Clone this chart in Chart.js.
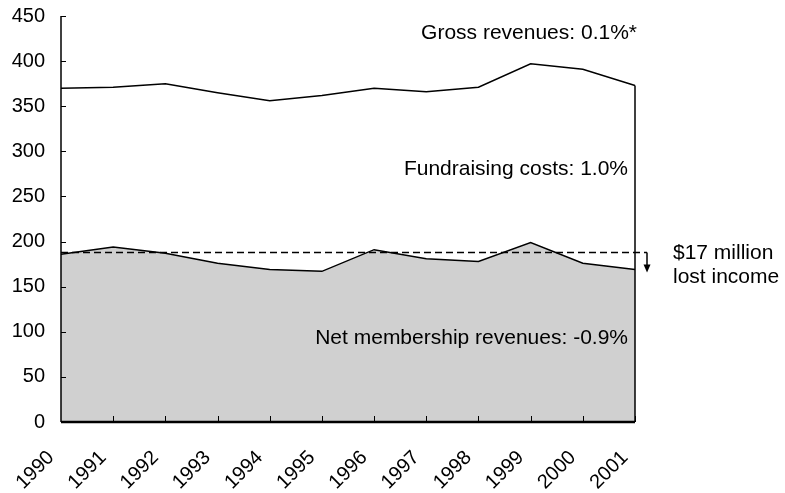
<!DOCTYPE html>
<html>
<head>
<meta charset="utf-8">
<title>Membership revenues 1990-2001</title>
<script src="https://cdn.jsdelivr.net/npm/chart.js@4.4.0/dist/chart.umd.min.js"></script>
<style>
body { margin: 0; background: #fff; }
</style>
</head>
<body>
<canvas id="chart" width="785" height="493"></canvas>
<script>
var years = ['1990', '1991', '1992', '1993', '1994', '1995', '1996', '1997', '1998', '1999', '2000', '2001'];
var grossRevenues = [370, 371, 375, 365, 356, 362, 370, 366, 371, 397, 391, 373];
var netMembership = [186, 194, 187, 176, 169, 167, 191, 181, 178, 199, 176, 169];
var lostIncomeLevel = 188;
var yTicks = [0, 50, 100, 150, 200, 250, 300, 350, 400, 450];

var FONT = '21px "Liberation Sans", Arial, sans-serif';

// axes, inside ticks, the dashed 1990 level and the text notes go on top of the fills
var overlay = {
  id: 'overlay',
  afterDatasetsDraw: function (chart) {
    var ctx = chart.ctx, x = chart.scales.x, y = chart.scales.y, a = chart.chartArea;
    var last = years.length - 1;
    var i;
    ctx.save();
    ctx.strokeStyle = '#000';
    ctx.fillStyle = '#000';

    // right edge of the gross revenue area
    ctx.lineWidth = 1.5;
    var ex = x.getPixelForValue(last);
    ctx.beginPath();
    ctx.moveTo(ex, y.getPixelForValue(grossRevenues[last]));
    ctx.lineTo(ex, y.getPixelForValue(0));
    ctx.stroke();

    // dashed level line and arrow
    var ly = y.getPixelForValue(lostIncomeLevel);
    ctx.setLineDash([7, 4]);
    ctx.beginPath();
    ctx.moveTo(a.left, ly);
    ctx.lineTo(a.right + 12, ly);
    ctx.stroke();
    ctx.setLineDash([]);
    var ax = a.right + 12;
    ctx.beginPath();
    ctx.moveTo(ax, ly);
    ctx.lineTo(ax, ly + 14);
    ctx.stroke();
    ctx.beginPath();
    ctx.moveTo(ax - 3.5, ly + 12);
    ctx.lineTo(ax + 3.5, ly + 12);
    ctx.lineTo(ax, ly + 20);
    ctx.closePath();
    ctx.fill();

    // axis lines
    ctx.lineWidth = 1.5;
    ctx.beginPath();
    ctx.moveTo(a.left, a.top);
    ctx.lineTo(a.left, a.bottom);
    ctx.stroke();
    ctx.lineWidth = 2.5;
    ctx.beginPath();
    ctx.moveTo(a.left, a.bottom);
    ctx.lineTo(a.right, a.bottom);
    ctx.stroke();

    // tick marks pointing inside
    ctx.lineWidth = 1;
    for (i = 0; i < yTicks.length; i++) {
      var ty = Math.round(y.getPixelForValue(yTicks[i])) + 0.5;
      ctx.beginPath();
      ctx.moveTo(a.left, ty);
      ctx.lineTo(a.left + 5, ty);
      ctx.stroke();
    }
    for (i = 1; i < years.length; i++) {
      var tx = Math.round(x.getPixelForValue(i)) + 0.5;
      ctx.beginPath();
      ctx.moveTo(tx, a.bottom);
      ctx.lineTo(tx, a.bottom - 6);
      ctx.stroke();
    }

    // notes
    ctx.font = FONT;
    ctx.textBaseline = 'alphabetic';
    ctx.textAlign = 'right';
    ctx.fillText('Gross revenues: 0.1%*', a.right + 2, y.getPixelForValue(424));
    ctx.fillText('Fundraising costs: 1.0%', a.right - 7, y.getPixelForValue(274));
    ctx.fillText('Net membership revenues: -0.9%', a.right - 7, y.getPixelForValue(86));
    ctx.textAlign = 'left';
    ctx.fillText('$17 million', a.right + 38, y.getPixelForValue(181));
    ctx.fillText('lost income', a.right + 38, y.getPixelForValue(154));
    ctx.restore();
  }
};

new Chart(document.getElementById('chart'), {
  type: 'line',
  data: {
    labels: years,
    datasets: [
      {
        label: 'Net membership revenues',
        data: netMembership,
        borderColor: '#000',
        borderWidth: 1.5,
        backgroundColor: '#d0d0d0',
        fill: 'origin',
        pointRadius: 0,
        tension: 0
      },
      {
        label: 'Gross revenues',
        data: grossRevenues,
        borderColor: '#000',
        borderWidth: 1.5,
        fill: false,
        pointRadius: 0,
        tension: 0
      }
    ]
  },
  options: {
    responsive: false,
    animation: false,
    layout: { padding: { top: 0, right: 150, bottom: 0, left: 0 } },
    plugins: {
      legend: { display: false },
      tooltip: { enabled: false }
    },
    scales: {
      x: {
        offset: false,
        grid: { display: false },
        border: { display: false },
        afterFit: function (s) { s.height = 71; },
        ticks: {
          autoSkip: false,
          minRotation: 45,
          maxRotation: 45,
          padding: 16,
          labelOffset: -10,
          color: '#000',
          font: { family: '"Liberation Sans", Arial, sans-serif', size: 20 }
        }
      },
      y: {
        min: 0,
        max: 450,
        grid: { display: false },
        border: { display: false },
        afterFit: function (s) {
          s.width = 61;
          s.paddingTop = 16;
          s.paddingBottom = 0;
        },
        afterBuildTicks: function (s) {
          s.ticks = yTicks.map(function (v) { return { value: v }; });
        },
        ticks: {
          padding: 8,
          color: '#000',
          font: { family: '"Liberation Sans", Arial, sans-serif', size: 20 }
        }
      }
    }
  },
  plugins: [overlay]
});
</script>
</body>
</html>
